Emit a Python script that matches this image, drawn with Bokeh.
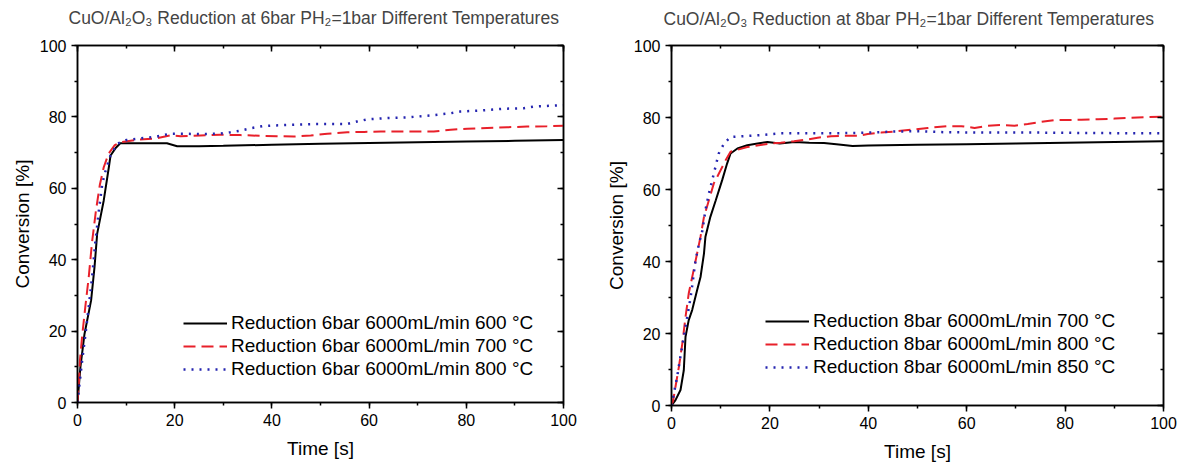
from bokeh.plotting import figure
from bokeh.layouts import row
from bokeh.models import LinearAxis, SingleIntervalTicker, Range1d
from bokeh.embed import file_html
from bokeh.resources import INLINE

FONT = "Liberation Sans"

# ---------------- Left panel data (6 bar) ----------------
title_left = "CuO/Al\u2082O\u2083 Reduction at 6bar PH\u2082=1bar Different Temperatures"
labels_left = ["Reduction 6bar 6000mL/min 600 \u00b0C",
               "Reduction 6bar 6000mL/min 700 \u00b0C",
               "Reduction 6bar 6000mL/min 800 \u00b0C"]

t6_600 = [0, 0.6, 1.44, 2.8, 3.5, 4.05, 5.4, 6.45, 6.8, 7.8, 8.8, 12, 15, 18.4, 20.5,
          25, 30, 40, 50, 60, 70, 80, 90, 100]
v6_600 = [0, 9.9, 19.2, 28.6, 37.9, 47.3, 56.6, 65.9, 69.2, 71.2, 72.6, 72.6, 72.6, 72.6, 71.8,
          71.8, 71.9, 72.2, 72.5, 72.7, 72.9, 73.1, 73.3, 73.5]

t6_700 = [0, 0.3, 0.5, 1.0, 1.6, 2.3, 3.0, 3.8, 4.6, 5.4, 6.4, 7.6, 8.8, 12.3, 15.8, 19.1,
          21.2, 25.3, 29.4, 33.5, 37.7, 41.0, 44.5, 48, 51.4, 55.5, 59, 62.4, 65.8, 69.2,
          73.3, 76.8, 80.2, 84.3, 88.4, 92.5, 96.6, 100]
v6_700 = [0, 6, 11.8, 19.2, 26.7, 35, 45, 53.8, 61, 65.9, 69.7, 72, 72.9, 73.6, 73.9, 74.8,
          74.6, 74.8, 75.0, 74.9, 74.7, 74.6, 74.5, 74.8, 75.3, 75.7, 75.8, 75.9, 75.9, 75.9,
          75.9, 76.4, 76.7, 76.9, 77.1, 77.3, 77.4, 77.5]

t6_800 = [0, 0.27, 0.96, 1.65, 2.3, 3.0, 3.7, 4.4, 5.1, 5.8, 6.8, 8.2, 10, 12.3, 16, 19.1,
          21.2, 25, 29.4, 31.5, 33.7, 35.9, 38.1, 40.4, 44.5, 49, 55.5, 57.5, 59.6, 64, 68.2,
          72.6, 74.6, 76.7, 78.8, 83.2, 87.7, 91.8, 93.9, 98.3, 100]
v6_800 = [0, 3.4, 11.8, 19.2, 26.7, 35.1, 45.4, 53.8, 61.3, 65, 69.2, 72.5, 73.5, 73.9, 74.4, 75.3,
          75.3, 75.2, 75.3, 75.7, 76.2, 76.9, 77.4, 77.6, 77.8, 78.0, 78.0, 78.7, 79.3, 79.7, 79.9,
          80.4, 80.7, 81.0, 81.5, 81.8, 82.3, 82.4, 82.9, 83.2, 83.3]

# ---------------- Right panel data (8 bar) ----------------
title_right = "CuO/Al\u2082O\u2083 Reduction at 8bar PH\u2082=1bar Different Temperatures"
labels_right = ["Reduction 8bar 6000mL/min 700 \u00b0C",
                "Reduction 8bar 6000mL/min 800 \u00b0C",
                "Reduction 8bar 6000mL/min 850 \u00b0C"]

t8_700 = [0, 0.81, 1.83, 2.5, 2.85, 3.5, 4.2, 5.2, 5.9, 6.6, 6.9, 7.9, 9.0, 10.3, 11.3, 12.0,
          13.4, 15.4, 17.5, 19.5, 22, 25, 28, 31, 34, 36.8, 40, 50, 60, 70, 80, 90, 100]
v8_700 = [0, 1.5, 4.3, 9.8, 19.1, 23.7, 26.5, 32, 35.7, 42.2, 46.9, 52.4, 57, 62.6, 67.2, 70,
          71.4, 72.3, 72.8, 73.2, 72.8, 73.2, 73.0, 72.9, 72.5, 72.1, 72.2, 72.4, 72.6, 72.8,
          73.0, 73.2, 73.4]

t8_800 = [0, 0.35, 0.81, 1.5, 2.2, 2.85, 3.5, 4.5, 5.2, 5.9, 6.6, 7.6, 8.6, 10, 11, 12, 15.4, 20.2,
          22.2, 24.9, 27.6, 29.7, 32.4, 35.1, 37.8, 39.9, 42.6, 45.3, 49.4, 52.1, 56.1, 58.9,
          61.6, 64.3, 67, 69.7, 72.4, 75.2, 77.9, 80.6, 83.3, 86.7, 90.1, 93.5, 96.9, 100]
v8_800 = [0, 1.5, 5.2, 10.7, 17.2, 24.6, 31.1, 37.6, 42.2, 46.9, 52.4, 57, 61.7, 65.4, 68.1, 70.5,
          71.8, 72.8, 73.0, 73.4, 73.9, 74.4, 74.8, 74.9, 74.9, 75.4, 75.8, 76.1, 76.7, 77.1,
          77.6, 77.6, 77.1, 77.7, 77.9, 77.7, 78.2, 78.8, 79.3, 79.3, 79.4, 79.5, 79.7, 79.9,
          80.1, 80.2]

t8_850 = [0, 0.35, 1.15, 1.8, 2.5, 3.2, 3.9, 4.9, 5.6, 6.3, 6.9, 7.6, 8.6, 9.6, 10.7, 12, 18.1,
          22.2, 30, 37.8, 45.3, 49.4, 56, 65, 75, 85, 95, 100]
v8_850 = [0, 2.4, 8, 13.5, 19.1, 24.6, 30.2, 40.4, 45, 48.7, 54.3, 58.9, 64.4, 70, 72.8, 74.6, 75.1,
          75.6, 75.6, 75.7, 76.1, 76.2, 75.9, 75.8, 75.8, 75.7, 75.6, 75.6]

COLORS = ["black", "#e8202a", "#2424b0"]
DASHES = ["solid", "12 6", "2 6"]
WIDTHS = [2, 2, 2.5]


def make_panel(title, xs, ys, labels, border_left, frame_w, border_right,
               border_top, frame_h, title_offset, title_pad, legend_loc):
    p = figure(frame_width=frame_w, frame_height=frame_h,
               min_border_left=border_left, min_border_right=border_right,
               min_border_top=border_top, min_border_bottom=465 - border_top - frame_h,
               x_range=Range1d(0, 100), y_range=Range1d(0, 100),
               output_backend="svg", toolbar_location=None,
               background_fill_color="white", border_fill_color="white")
    p.title.text = title
    p.title.text_font = FONT
    p.title.text_font_size = "17.5px"
    p.title.text_font_style = "normal"
    p.title.align = "left"
    p.title.offset = title_offset
    try:
        # padding order: (left, right, top, bottom)
        p.title.padding = (0, 0, 0, title_pad)
        p.title.standoff = 0
    except Exception:
        p.title.standoff = 24

    p.grid.visible = False
    p.outline_line_color = "black"
    p.outline_line_width = 1.5

    for ax in (p.xaxis[0], p.yaxis[0]):
        ax.ticker = SingleIntervalTicker(interval=20, num_minor_ticks=2)
        ax.axis_line_width = 1.5
        ax.major_tick_line_width = 1.5
        ax.minor_tick_line_width = 1.5
        ax.major_tick_out = 6
        ax.major_tick_in = 0
        ax.minor_tick_out = 3
        ax.minor_tick_in = 0
        ax.major_label_text_font = FONT
        ax.major_label_text_font_size = "16px"
        ax.major_label_text_color = "black"
        ax.axis_label_text_font = FONT
        ax.axis_label_text_font_size = "19px"
        ax.axis_label_text_font_style = "normal"
        ax.axis_label_text_color = "black"
    p.xaxis[0].major_label_standoff = 5
    p.yaxis[0].major_label_standoff = 5
    p.xaxis[0].axis_label = "Time [s]"
    p.yaxis[0].axis_label = "Conversion [%]"
    p.xaxis[0].axis_label_standoff = 9
    p.yaxis[0].axis_label_standoff = 4

    blank = {v: "" for v in range(0, 101, 20)}
    for loc in ("above", "right"):
        ax = LinearAxis(ticker=SingleIntervalTicker(interval=20, num_minor_ticks=2))
        ax.axis_line_width = 1.5
        ax.major_tick_line_width = 1.5
        ax.minor_tick_line_width = 1.5
        ax.major_tick_out = 0
        ax.major_tick_in = 6
        ax.minor_tick_out = 0
        ax.minor_tick_in = 3
        ax.major_label_overrides = blank
        ax.major_label_standoff = 0
        p.add_layout(ax, loc)

    for x, y, lab, c, d, w in zip(xs, ys, labels, COLORS, DASHES, WIDTHS):
        p.line(x, y, line_color=c, line_dash=d, line_width=w, legend_label=lab)

    lg = p.legend[0]
    lg.location = legend_loc
    lg.background_fill_alpha = 0
    lg.border_line_alpha = 0
    lg.padding = 0
    lg.margin = 0
    lg.spacing = 1
    lg.glyph_width = 44
    lg.glyph_height = 22
    lg.label_height = 22
    lg.label_standoff = 4
    lg.label_text_font = FONT
    lg.label_text_font_size = "19px"
    lg.label_text_color = "black"
    return p


p1 = make_panel(title_left, [t6_600, t6_700, t6_800], [v6_600, v6_700, v6_800], labels_left,
                77, 486, 35, 45, 357, -9, 18, (106, 22))
p2 = make_panel(title_right, [t8_700, t8_800, t8_850], [v8_700, v8_800, v8_850], labels_right,
                73, 492, 18, 42, 360, -8, 17, (94, 27))

layout = row(p1, p2)
open("out.html", "w").write(file_html(layout, INLINE))
